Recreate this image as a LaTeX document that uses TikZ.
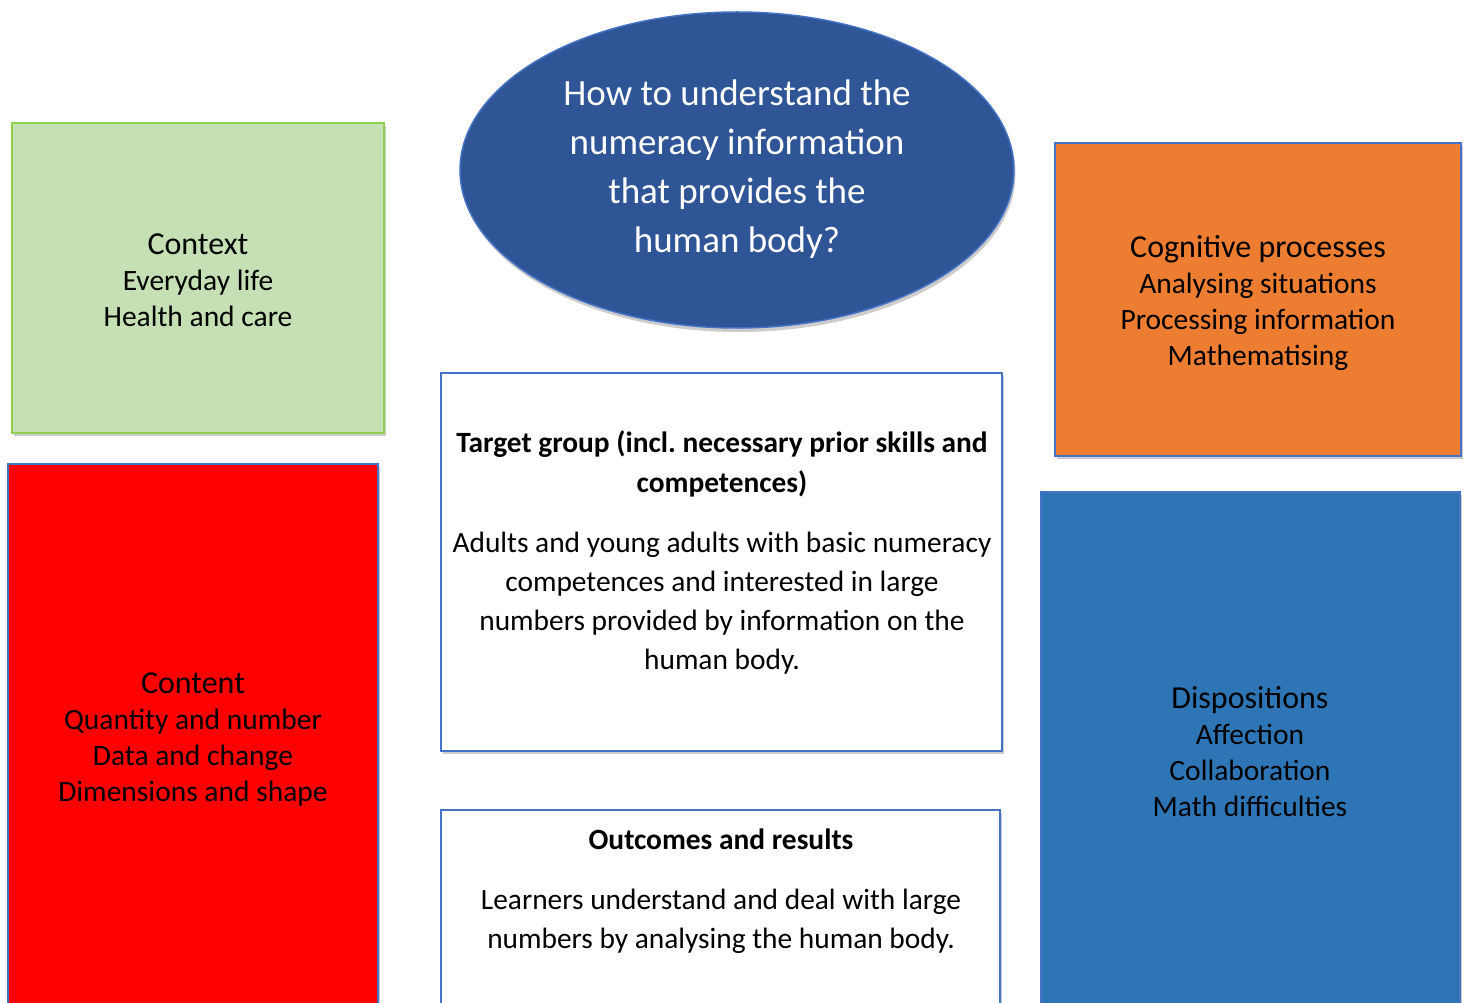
\documentclass[tikz,border=0pt]{standalone}
\usepackage{fontspec}
\setmainfont{Carlito}
\usetikzlibrary{shadows,shapes.geometric}
\definecolor{ctxfill}{HTML}{C5E0B4}
\definecolor{ctxline}{HTML}{92D050}
\definecolor{bluebrd}{HTML}{4472C4}
\definecolor{ellfill}{HTML}{2F5597}
\definecolor{orgfill}{HTML}{ED7D31}
\definecolor{disfill}{HTML}{2E75B6}
\tikzset{
  box/.style={draw=bluebrd, line width=1.5pt, rectangle, inner sep=0pt,
    drop shadow={opacity=0.4, shadow xshift=1.5pt, shadow yshift=-3pt}},
  txt/.style={align=center, inner sep=0pt, text=black},
  cat/.style={txt, font=\fontsize{29.5}{36}\selectfont},
}
\newcommand{\hdtext}[1]{{\fontsize{32}{36}\selectfont #1}}
\begin{document}
\begin{tikzpicture}[x=1pt,y=-1pt]
\clip (0,0) rectangle (1468,1003);
\fill[white] (0,0) rectangle (1468,1003);
% Context
\node[box, draw=ctxline, fill=ctxfill, minimum width=372pt, minimum height=310pt] (context) at (198,278) {};
\node[cat] (contexttxt) at (198,280) {\hdtext{Context}\\Everyday life\\Health and care};
% Content
\node[box, fill=red, minimum width=370pt, minimum height=546pt] (content) at (193,737) {};
\node[cat] (contenttxt) at (193,739) {\hdtext{Content}\\Quantity and number\\Data and change\\Dimensions and shape};
% Ellipse
\node[ellipse, draw=bluebrd, line width=1.5pt, fill=ellfill, minimum width=554pt, minimum height=316pt, inner sep=0pt,
  drop shadow={opacity=0.4, shadow xshift=1.5pt, shadow yshift=-4pt}] (question) at (737,170) {};
\node[txt, text=white, font=\fontsize{37}{49}\selectfont] (questiontxt) at (737,169)
  {How to understand the\\numeracy information\\that provides the\\human body?};
% Target group
\node[box, fill=white, minimum width=561pt, minimum height=378pt] (target) at (721.5,562) {};
\node[txt, font=\fontsize{29.4}{39}\selectfont] (targettxt) at (722,552)
  {\textbf{Target group (incl.\ necessary prior skills and}\\[1pt]
   \textbf{competences)}\\[21pt]
   Adults and young adults with basic numeracy\\
   competences and interested in large\\
   numbers provided by information on the\\
   human body.};
% Outcomes
\node[box, fill=white, minimum width=559pt, minimum height=210pt] (outcomes) at (720.5,915) {};
\node[txt, font=\fontsize{29.4}{39}\selectfont] (outcomestxt) at (721,891)
  {\textbf{Outcomes and results}\\[21pt]
   Learners understand and deal with large\\
   numbers by analysing the human body.};
% Cognitive processes
\node[box, fill=orgfill, minimum width=406pt, minimum height=313pt] (cognitive) at (1258,299.5) {};
\node[cat] (cognitivetxt) at (1258,303) {\hdtext{Cognitive processes}\\Analysing situations\\Processing information\\Mathematising};
% Dispositions
\node[box, fill=disfill, minimum width=419pt, minimum height=520pt] (dispositions) at (1250.5,752) {};
\node[cat] (dispositionstxt) at (1250,752) {\hdtext{Dispositions}\\Affection\\Collaboration\\Math difficulties};
\end{tikzpicture}
\end{document}
